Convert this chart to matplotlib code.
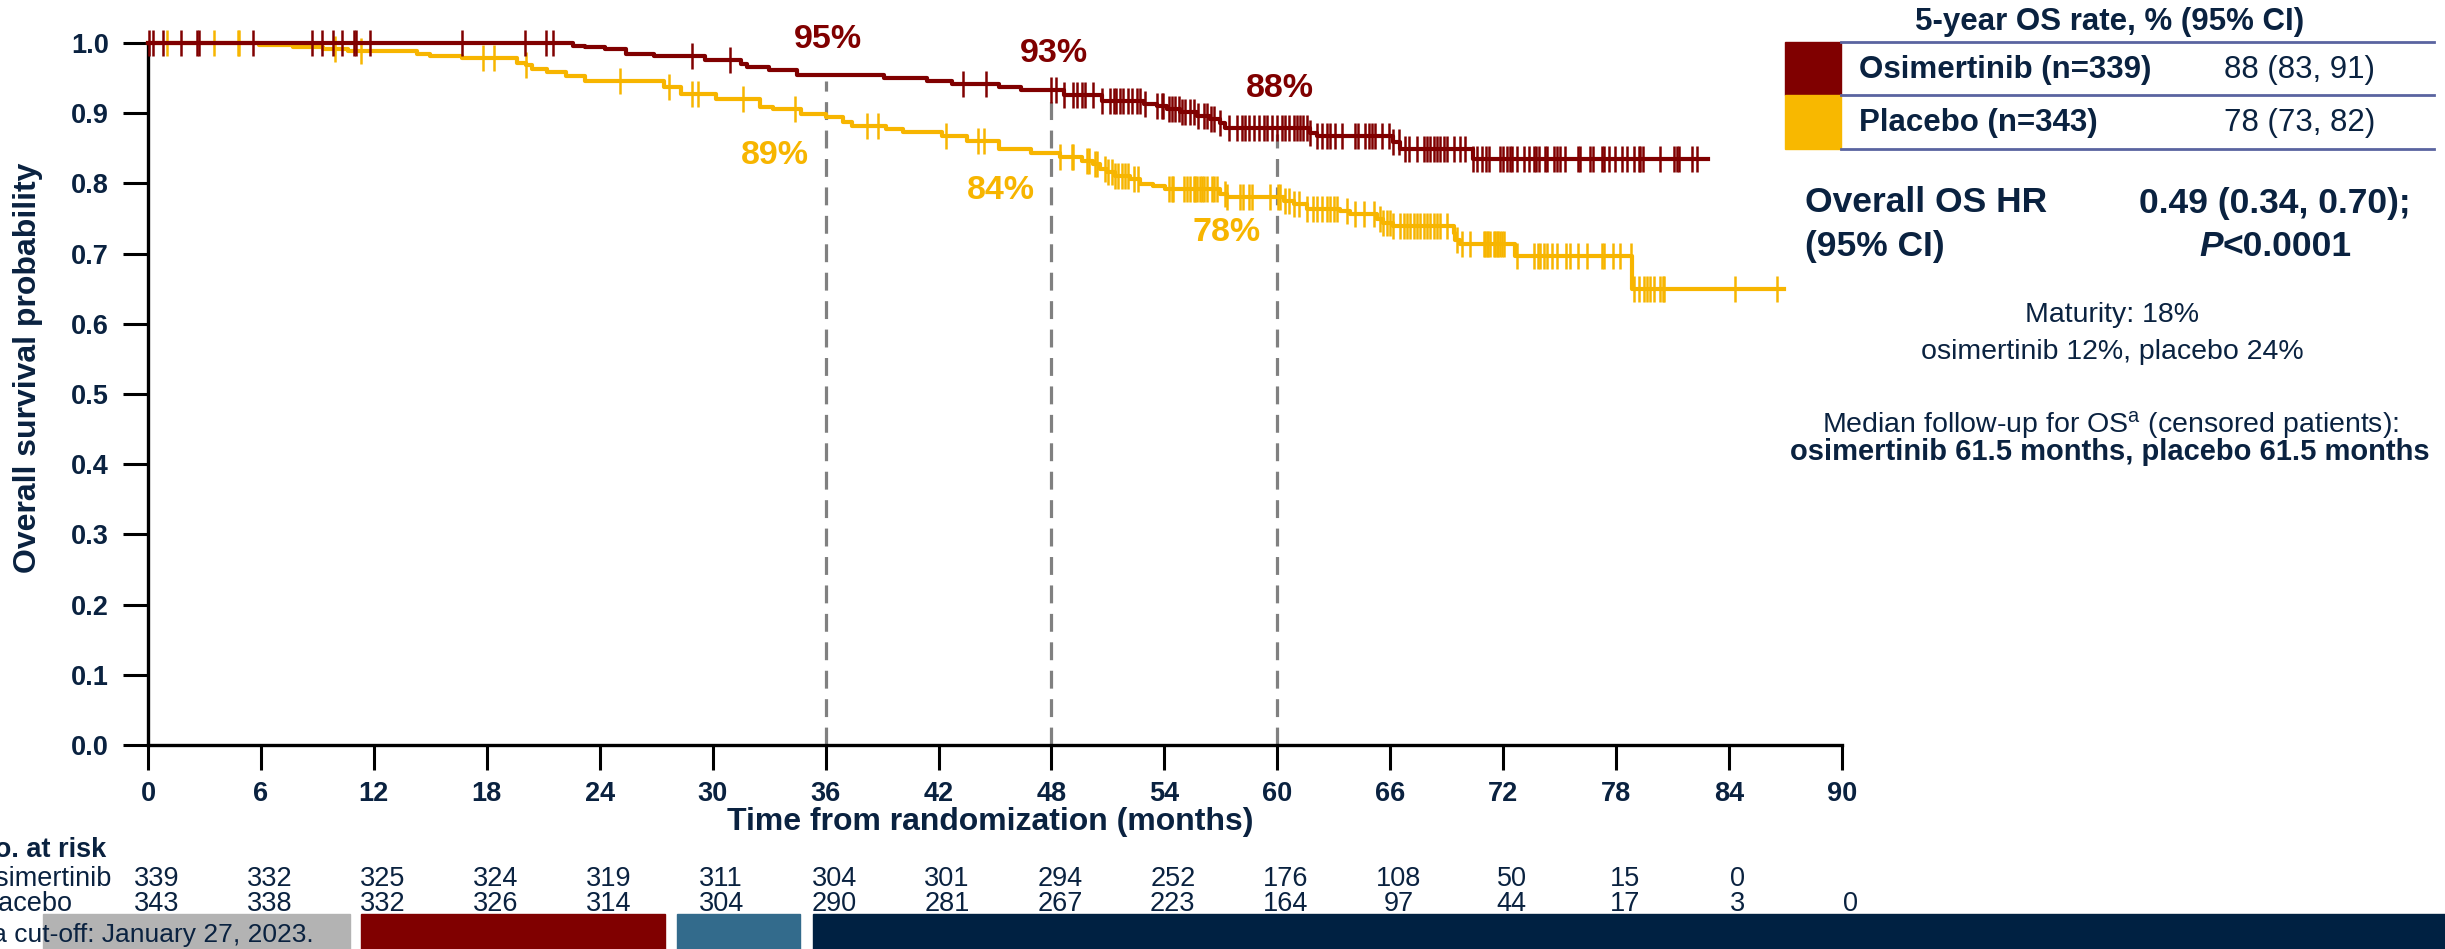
import numpy as np
import matplotlib
matplotlib.use('Agg')
import matplotlib.pyplot as plt
from matplotlib.patches import Rectangle
from matplotlib.lines import Line2D
from matplotlib.transforms import blended_transform_factory

plt.rcParams['font.family'] = ['Liberation Sans', 'DejaVu Sans']
plt.rcParams['mathtext.fontset'] = 'custom'
plt.rcParams['mathtext.rm'] = 'Liberation Sans'
plt.rcParams['mathtext.it'] = 'Liberation Sans:italic'
plt.rcParams['mathtext.bf'] = 'Liberation Sans:bold'

# ---------------- data ----------------
osi_times = [0, 22.6, 23.2, 24.3, 25.4, 26.9, 29.6, 31.5, 31.8, 33.0, 34.5, 39.1, 41.4, 42.7,
             45.2, 46.4, 48.64, 50.68, 52.9, 53.6, 54.13, 54.84, 55.72, 56.43, 56.96, 57.23,
             61.75, 62.1, 66.17, 66.53, 70.42]
osi_surv = [1.0, 0.996, 0.995, 0.991, 0.985, 0.981, 0.976, 0.970, 0.966, 0.962, 0.954, 0.950,
            0.946, 0.942, 0.938, 0.933, 0.926, 0.917, 0.913, 0.910, 0.906, 0.901, 0.896, 0.892,
            0.886, 0.879, 0.872, 0.868, 0.859, 0.849, 0.835]
osi_end = 82.9

pbo_times = [0, 5.9, 7.7, 9.3, 10.6, 14.3, 15.0, 16.7, 19.6, 20.1, 20.4, 21.2, 22.2, 23.2, 27.4,
             28.3, 30.2, 32.5, 33.2, 34.7, 36.0, 36.9, 37.4, 39.2, 40.1, 42.2, 43.5, 45.2, 46.9,
             48.46, 49.61, 50.23, 50.59, 50.94, 51.39, 52.18, 52.71, 53.42, 54.04, 56.96, 57.32,
             60.33, 60.86, 61.57, 63.34, 63.87, 65.29, 65.64, 66.17, 69.36, 69.45, 69.72, 72.64,
             78.84]
pbo_surv = [1.0, 0.9975, 0.994, 0.991, 0.988, 0.985, 0.982, 0.978, 0.971, 0.968, 0.963, 0.958,
            0.953, 0.946, 0.937, 0.928, 0.920, 0.909, 0.906, 0.899, 0.894, 0.887, 0.882, 0.877,
            0.873, 0.868, 0.861, 0.849, 0.843, 0.838, 0.832, 0.827, 0.820, 0.816, 0.811, 0.806,
            0.799, 0.796, 0.792, 0.785, 0.780, 0.775, 0.770, 0.764, 0.760, 0.756, 0.750, 0.744,
            0.739, 0.730, 0.720, 0.713, 0.697, 0.650]
pbo_end = 86.9

osi_censor = [0.05, 0.25, 0.78, 1.75, 2.62, 2.73, 5.6, 8.71, 9.23, 9.81, 10.33, 10.95, 11.05,
              11.8, 16.67, 20.03, 21.15, 21.5, 28.9, 30.9, 43.3, 44.5,
              48.0, 48.25, 48.64, 49.17, 49.35, 49.61, 49.79, 50.23, 50.68, 51.12, 51.3, 51.44,
              51.62, 51.79, 52.04, 52.27, 52.54, 52.71, 52.98, 53.6, 53.86, 53.95, 54.22, 54.4,
              54.57, 54.75, 54.93, 55.1, 55.37, 55.58, 55.81, 56.08, 56.26, 56.47, 56.65, 56.96,
              57.41, 57.85, 58.12, 58.29, 58.52, 58.74, 59.0, 59.27, 59.44, 59.71, 59.98, 60.24,
              60.42, 60.6, 60.86, 61.04, 61.22, 61.39, 61.57, 61.75, 62.1, 62.37, 62.63, 62.81,
              63.07, 63.43, 64.14, 64.31, 64.67, 64.85, 65.02, 65.2, 65.55, 65.91, 66.17, 66.44,
              66.79, 66.97, 67.41, 67.77, 67.95, 68.12, 68.3, 68.48, 68.65, 68.83, 69.01, 69.36,
              69.72, 69.98, 70.42, 70.6, 70.87, 71.1, 71.22, 71.84, 71.98, 72.2, 72.34, 72.46,
              72.73, 73.08, 73.35, 73.61, 73.76, 73.88, 74.23, 74.32, 74.71, 74.85, 75.0, 75.3,
              76.0, 76.09, 76.62, 76.77, 77.24, 77.33, 77.6, 77.95, 78.31, 78.57, 78.93, 79.19,
              79.28, 79.42, 80.34, 81.05, 81.23, 81.32, 82.03, 82.29]
pbo_censor = [1.0, 3.5, 4.77, 4.84, 9.94, 11.3, 17.8, 18.4, 20.1, 25.1, 27.7, 28.9, 29.2, 31.6,
              34.4, 38.2, 38.8, 42.4, 44.1, 44.4, 48.46, 49.08, 49.17, 49.88, 50.02, 50.32,
              50.41, 50.85, 51.03, 51.21, 51.39, 51.56, 51.74, 51.92, 52.09, 52.36, 52.62, 54.22,
              54.4, 54.48, 55.02, 55.19, 55.37, 55.55, 55.64, 55.72, 55.87, 55.99, 56.08, 56.26,
              56.52, 56.61, 56.79, 57.23, 57.32, 58.03, 58.2, 58.47, 58.65, 59.62, 60.06, 60.15,
              60.42, 60.6, 60.86, 61.13, 61.57, 61.92, 62.1, 62.37, 62.63, 62.81, 62.99, 63.16,
              63.69, 64.14, 64.58, 65.11, 65.47, 65.64, 65.82, 66.0, 66.17, 66.53, 66.71, 66.88,
              67.06, 67.24, 67.41, 67.59, 67.77, 67.95, 68.12, 68.3, 68.48, 68.65, 69.01, 69.54,
              69.8, 70.25, 70.96, 71.05, 71.13, 71.17, 71.31, 71.49, 71.58, 71.67, 71.75, 71.84,
              71.93, 72.02, 72.73, 73.61, 73.83, 73.97, 74.15, 74.32, 74.59, 74.85, 75.35, 75.56,
              75.95, 76.45, 77.24, 77.33, 77.83, 78.22, 78.8, 78.96, 79.19, 79.46, 79.64, 79.81,
              80.03, 80.34, 80.49, 80.56, 84.33, 86.54]

landmarks = [36, 48, 60]
osi_landmark_pct = [95, 93, 88]
pbo_landmark_pct = [89, 84, 78]

risk_times = [0, 6, 12, 18, 24, 30, 36, 42, 48, 54, 60, 66, 72, 78, 84, 90]
osi_risk = [339, 332, 325, 324, 319, 311, 304, 301, 294, 252, 176, 108, 50, 15, 0]
pbo_risk = [343, 338, 332, 326, 314, 304, 290, 281, 267, 223, 164, 97, 44, 17, 3, 0]

xticks = list(range(0, 91, 6))
yticks = [0.0, 0.1, 0.2, 0.3, 0.4, 0.5, 0.6, 0.7, 0.8, 0.9, 1.0]

# ---------------- style ----------------
RED = '#800000'
YEL = '#f7b500'
NAVY = '#0a2240'
GREY = '#808080'

W, H = 2445, 949
fig = plt.figure(figsize=(W / 100, H / 100), dpi=100)


def fx(px):
    return px / W


def fy(py):
    return 1 - py / H


ax = fig.add_axes([fx(148), fy(745), fx(1842) - fx(148), fy(43) - fy(745)])
ax.set_xlim(0, 90)
ax.set_ylim(0, 1.0)


def step_val(times, surv, t):
    idx = np.searchsorted(np.asarray(times), np.asarray(t), side='right') - 1
    return np.asarray(surv)[idx]


# dashed landmark lines
for lm, pct in zip(landmarks, osi_landmark_pct):
    ax.plot([lm, lm], [0, step_val(osi_times, osi_surv, lm) - 0.008], color=GREY, lw=2.3,
            dashes=(5.6, 3.3), zorder=1, clip_on=False)

# curves
ax.step(list(pbo_times) + [pbo_end], list(pbo_surv) + [pbo_surv[-1]], where='post',
        color=YEL, lw=3.0, zorder=3, clip_on=False)
ax.plot(pbo_censor, step_val(pbo_times, pbo_surv, pbo_censor), ls='none', marker='|',
        ms=19, mew=1.8, color=YEL, zorder=3, clip_on=False)
ax.step(list(osi_times) + [osi_end], list(osi_surv) + [osi_surv[-1]], where='post',
        color=RED, lw=3.0, zorder=4, clip_on=False)
ax.plot(osi_censor, step_val(osi_times, osi_surv, osi_censor), ls='none', marker='|',
        ms=19, mew=1.8, color=RED, zorder=4, clip_on=False)

# landmark labels
for lm, p in zip(landmarks, osi_landmark_pct):
    ax.text(lm + 0.15, p / 100 + 0.055, f'{p}%', color=RED, fontsize=24.5, fontweight='bold',
            ha='center', va='center', clip_on=False)
for lm, p in zip(landmarks, pbo_landmark_pct):
    ax.text(lm - 2.7, p / 100 - 0.05, f'{p}%', color=YEL, fontsize=24.5, fontweight='bold',
            ha='center', va='center', clip_on=False)

# axes styling
for s in ['top', 'right']:
    ax.spines[s].set_visible(False)
for s in ['left', 'bottom']:
    ax.spines[s].set_linewidth(2.4)
    ax.spines[s].set_color('black')
ax.set_xticks(xticks)
ax.set_yticks(yticks)
ax.set_yticklabels([f'{v:.1f}' for v in yticks])
ax.tick_params(axis='both', direction='out', length=18, width=2.2, color='black',
               labelsize=19.5, labelcolor=NAVY)
ax.tick_params(axis='x', pad=8)
ax.tick_params(axis='y', pad=10)
for lab in ax.get_xticklabels() + ax.get_yticklabels():
    lab.set_fontweight('bold')

fig.text(fx(28), fy(368), 'Overall survival probability', rotation=90, fontsize=23,
         fontweight='bold', color=NAVY, ha='center', va='center')
fig.text(fx(990), fy(822), 'Time from randomization (months)', fontsize=23,
         fontweight='bold', color=NAVY, ha='center', va='center')

# number at risk
tr = blended_transform_factory(ax.transData, fig.transFigure)
fig.text(fx(-25), fy(850), 'No. at risk', fontsize=19.5, fontweight='bold', color=NAVY,
         ha='left', va='center')
fig.text(fx(-25), fy(879), 'Osimertinib', fontsize=19.5, color=NAVY, ha='left', va='center')
fig.text(fx(-25), fy(904), 'Placebo', fontsize=19.5, color=NAVY, ha='left', va='center')
for t, n in zip(risk_times, osi_risk):
    ax.text(t + 0.45, fy(879), str(n), transform=tr, fontsize=19.5, color=NAVY,
            ha='center', va='center', clip_on=False)
for t, n in zip(risk_times, pbo_risk):
    ax.text(t + 0.45, fy(904), str(n), transform=tr, fontsize=19.5, color=NAVY,
            ha='center', va='center', clip_on=False, zorder=5)

# bottom decorative bars
bars = [(43, 350, '#b3b3b3'), (361, 665, '#800000'), (677, 800, '#336b8c'),
        (813, 2445, '#002142')]
for x0, x1, c in bars:
    fig.patches.append(Rectangle((fx(x0), 0), fx(x1) - fx(x0), fy(914), transform=fig.transFigure,
                                 color=c, zorder=0))
fig.text(fx(314), fy(935), 'Data cut-off: January 27, 2023.', fontsize=19, color=NAVY,
         ha='right', va='center', zorder=5)

# right-hand table
fig.text(fx(2110), fy(22), '5-year OS rate, % (95% CI)', fontsize=22.5, fontweight='bold',
         color=NAVY, ha='center', va='center')
fig.patches.append(Rectangle((fx(1785), fy(95)), fx(1841) - fx(1785), fy(42) - fy(95),
                             transform=fig.transFigure, color=RED))
fig.patches.append(Rectangle((fx(1785), fy(149)), fx(1841) - fx(1785), fy(95) - fy(149),
                             transform=fig.transFigure, color='#f8b800'))
for yy in [42, 95, 149]:
    fig.lines.append(Line2D([fx(1841), fx(2434)], [fy(yy), fy(yy)], transform=fig.transFigure,
                            color='#5a64a0', lw=2))
fig.text(fx(1859), fy(70), 'Osimertinib (n=339)', fontsize=22.5, fontweight='bold',
         color=NAVY, ha='left', va='center')
fig.text(fx(2300), fy(70), '88 (83, 91)', fontsize=22.5, color=NAVY, ha='center', va='center')
fig.text(fx(1859), fy(123), 'Placebo (n=343)', fontsize=22.5, fontweight='bold',
         color=NAVY, ha='left', va='center')
fig.text(fx(2300), fy(123), '78 (73, 82)', fontsize=22.5, color=NAVY, ha='center', va='center')

fig.text(fx(1805), fy(203), 'Overall OS HR', fontsize=25.5, fontweight='bold', color=NAVY,
         ha='left', va='center')
fig.text(fx(1805), fy(247), '(95% CI)', fontsize=25.5, fontweight='bold', color=NAVY,
         ha='left', va='center')
fig.text(fx(2275), fy(203), '0.49 (0.34, 0.70);', fontsize=25.5, fontweight='bold',
         color=NAVY, ha='center', va='center')
fig.text(fx(2223), fy(247), 'P', fontsize=25.5, fontweight='bold', style='italic',
         color=NAVY, ha='right', va='center')
fig.text(fx(2223), fy(247), '<0.0001', fontsize=25.5, fontweight='bold',
         color=NAVY, ha='left', va='center')

fig.text(fx(2112), fy(315), 'Maturity: 18%', fontsize=20.5, color=NAVY, ha='center',
         va='center')
fig.text(fx(2112), fy(352), 'osimertinib 12%, placebo 24%', fontsize=20.5, color=NAVY,
         ha='center', va='center')
fig.text(fx(2111), fy(425), r'Median follow-up for OS$^{\rm a}$ (censored patients):',
         fontsize=20.5, color=NAVY, ha='center', va='center')
fig.text(fx(2110), fy(452), 'osimertinib 61.5 months, placebo 61.5 months', fontsize=21,
         fontweight='bold', color=NAVY, ha='center', va='center')

fig.savefig('out.png', dpi=100, facecolor='white')
